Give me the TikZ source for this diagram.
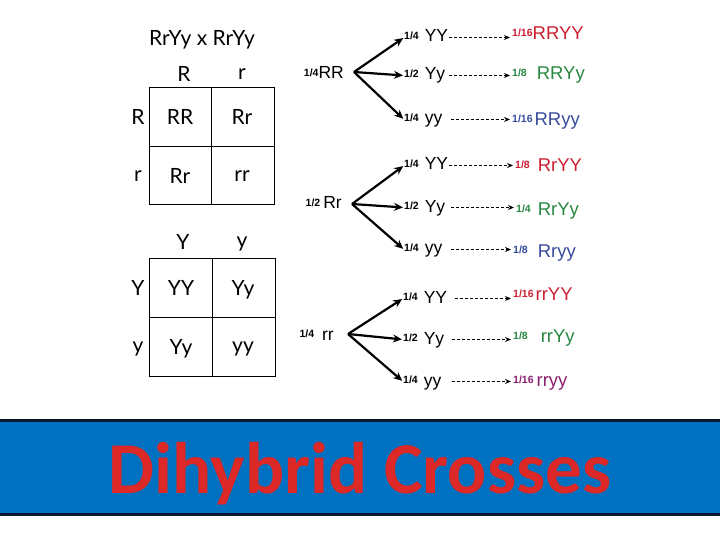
\documentclass[tikz,border=0pt]{standalone}
\usepackage{fontspec}
\setmainfont{Liberation Sans}
\newfontfamily\pfont{Lato}
\newfontfamily\bfont{Carlito}
\usetikzlibrary{arrows.meta}
\definecolor{bannerblue}{RGB}{0,112,192}
\definecolor{bannerline}{RGB}{8,22,50}
\definecolor{titlered}{RGB}{220,40,38}
\definecolor{resred}{RGB}{205,30,50}
\definecolor{resgreen}{RGB}{40,135,65}
\definecolor{resblue}{RGB}{55,75,155}
\definecolor{respurple}{RGB}{140,30,110}
\newcommand\gfr[1]{\raisebox{2.5pt}{\bfseries\fontsize{10.5}{12}\selectfont #1}}
\newcommand\rfr[1]{\raisebox{3pt}{\bfseries\fontsize{10.5}{12}\selectfont #1}}
\begin{document}
\begin{tikzpicture}[x=1pt,y=-1pt,
 ptext/.style={font=\pfont\fontsize{21}{24}\selectfont, inner sep=0pt},
 gene/.style={font=\fontsize{17.5}{20}\selectfont, inner sep=0pt, anchor=base west, text height=12.5pt, text depth=3.5pt},
 res/.style={font=\fontsize{18.5}{20}\selectfont, inner sep=0pt, anchor=base west, text height=13pt, text depth=4pt},
 branch/.style={line width=2.2pt, shorten >=1pt, -{Stealth[length=9pt,width=8pt]}},
 dotarrow/.style={line width=1.1pt, dash pattern=on 3pt off 2pt, shorten >=2pt, -{Stealth[length=6pt,width=5pt]}},
 grid/.style={line width=1pt},
]
\useasboundingbox (0,0) rectangle (720,540);
\fill[white] (0,0) rectangle (720,540);

% Punnett square 1
\node[ptext] (title1) at (202,40) {RrYy x RrYy};
\draw[grid] (149,88) rectangle (274,205);
\draw[grid] (211,88) -- (211,205);
\draw[grid] (149,147) -- (274,147);
\node[ptext] (c1R) at (184,74) {R};
\node[ptext] (c1r) at (242,74) {r};
\node[ptext] (r1R) at (138,117) {R};
\node[ptext] (r1r) at (138,176) {r};
\node[ptext] (s11) at (180,117) {RR};
\node[ptext] (s12) at (242,117) {Rr};
\node[ptext] (s21) at (180,176) {Rr};
\node[ptext] (s22) at (242,176) {rr};

% Punnett square 2
\draw[grid] (149,258) rectangle (275,376);
\draw[grid] (212,258) -- (212,376);
\draw[grid] (149,317) -- (275,317);
\node[ptext] (c2Y) at (183,242) {Y};
\node[ptext] (c2y) at (242,244) {y};
\node[ptext] (r2Y) at (138,288) {Y};
\node[ptext] (r2y) at (138,349) {y};
\node[ptext] (q11) at (181,288) {YY};
\node[ptext] (q12) at (243,290) {Yy};
\node[ptext] (q21) at (181,349) {Yy};
\node[ptext] (q22) at (243,349) {yy};

% Tree 1
\node[gene, anchor=base east] (p1) at (344,79) {\gfr{1/4}RR};
\coordinate (o1) at (354,72);
\node[gene] (a11) at (404,42) {\gfr{1/4}\hspace{6pt}YY};
\node[gene] (a12) at (404,80) {\gfr{1/2}\hspace{6pt}Yy};
\node[gene] (a13) at (404,124) {\gfr{1/4}\hspace{6pt}yy};
\node[res, text=resred] (b11) at (512,40) {\rfr{1/16}RRYY};
\node[res, text=resgreen] (b12) at (512,80) {\rfr{1/8}\hspace{10pt}RRYy};
\node[res, text=resblue] (b13) at (512,126) {\rfr{1/16}\hspace{2pt}RRyy};
\draw[branch] (o1) -- (a11.west);
\draw[branch] (o1) -- (a12.west);
\draw[branch] (o1) -- (a13.west);
\draw[dotarrow] ([xshift=1pt]a11.east) -- (a11.east -| b11.west);
\draw[dotarrow] ([xshift=4pt]a12.east) -- (a12.east -| b12.west);
\draw[dotarrow] ([xshift=8pt]a13.east) -- (a13.east -| b13.west);

% Tree 2
\node[gene, anchor=base east] (p2) at (342,209) {\gfr{1/2}\hspace{3pt}Rr};
\coordinate (o2) at (352,204);
\node[gene] (a21) at (404,170) {\gfr{1/4}\hspace{6pt}YY};
\node[gene] (a22) at (404,212) {\gfr{1/2}\hspace{6pt}Yy};
\node[gene] (a23) at (404,254) {\gfr{1/4}\hspace{6pt}yy};
\node[res, text=resred] (b21) at (515,172) {\rfr{1/8}\hspace{8pt}RrYY};
\node[res, text=resgreen] (b22) at (516,215) {\rfr{1/4}\hspace{7pt}RrYy};
\node[res, text=resblue] (b23) at (513,257) {\rfr{1/8}\hspace{10pt}Rryy};
\draw[branch] (o2) -- (a21.west);
\draw[branch] (o2) -- (a22.west);
\draw[branch] (o2) -- (a23.west);
\draw[dotarrow] ([xshift=1pt]a21.east) -- (a21.east -| b21.west);
\draw[dotarrow] ([xshift=6pt]a22.east) -- (a22.east -| b22.west);
\draw[dotarrow] ([xshift=8pt]a23.east) -- (a23.east -| b23.west);

% Tree 3
\node[gene, anchor=base east] (p3) at (334,340) {\gfr{1/4}\hspace{8pt}rr};
\coordinate (o3) at (348,334);
\node[gene] (a31) at (403,303) {\gfr{1/4}\hspace{6pt}YY};
\node[gene] (a32) at (403,344) {\gfr{1/2}\hspace{6pt}Yy};
\node[gene] (a33) at (403,386) {\gfr{1/4}\hspace{6pt}yy};
\node[res, text=resred] (b31) at (513,300) {\rfr{1/16}\hspace{2pt}rrYY};
\node[res, text=resgreen] (b32) at (513,342) {\rfr{1/8}\hspace{13pt}rrYy};
\node[res, text=respurple] (b33) at (513,386) {\rfr{1/16}\hspace{3pt}rryy};
\draw[branch] (o3) -- (a31.west);
\draw[branch] (o3) -- (a32.west);
\draw[branch] (o3) -- (a33.west);
\draw[dotarrow] ([xshift=8pt]a31.east) -- (a31.east -| b31.west);
\draw[dotarrow] ([xshift=8pt]a32.east) -- (a32.east -| b32.west);
\draw[dotarrow] ([xshift=10pt]a33.east) -- (a33.east -| b33.west);

% Banner
\fill[bannerblue] (0,420) rectangle (720,514);
\draw[bannerline, line width=3pt] (0,420) -- (720,420);
\draw[bannerline, line width=3pt] (0,514) -- (720,514);
\node[font=\bfont\bfseries\fontsize{73}{78}\selectfont, text=titlered, anchor=base, inner sep=0pt] (banner) at (360,493) {Dihybrid Crosses};
\end{tikzpicture}
\end{document}
